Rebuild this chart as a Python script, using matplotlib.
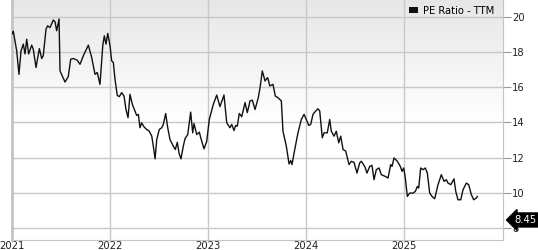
import numpy as np
import matplotlib
matplotlib.use("Agg")
import matplotlib.pyplot as plt
from matplotlib.patches import Rectangle

# ---- data (fractional years, PE ratio TTM) ----
years = [
    2021.000, 2021.013, 2021.048, 2021.071, 2021.092, 2021.115, 2021.133, 2021.150, 2021.170, 2021.201,
    2021.217, 2021.245, 2021.279, 2021.303, 2021.319, 2021.347, 2021.364, 2021.388, 2021.421, 2021.439,
    2021.456, 2021.480, 2021.490, 2021.541, 2021.574, 2021.599, 2021.626, 2021.666, 2021.694, 2021.728,
    2021.779, 2021.813, 2021.847, 2021.870, 2021.898, 2021.926, 2021.942, 2021.959, 2021.977, 2022.000,
    2022.017, 2022.034, 2022.051, 2022.074, 2022.095, 2022.119, 2022.143, 2022.163, 2022.184, 2022.204,
    2022.228, 2022.255, 2022.272, 2022.289, 2022.306, 2022.323, 2022.347, 2022.374, 2022.401, 2022.426,
    2022.442, 2022.460, 2022.477, 2022.503, 2022.528, 2022.544, 2022.568, 2022.589, 2022.612, 2022.646,
    2022.666, 2022.687, 2022.704, 2022.724, 2022.748, 2022.765, 2022.793, 2022.823, 2022.844, 2022.857,
    2022.885, 2022.911, 2022.936, 2022.959, 2022.987, 2023.013, 2023.054, 2023.089, 2023.122, 2023.163,
    2023.191, 2023.224, 2023.242, 2023.265, 2023.282, 2023.299, 2023.319, 2023.344, 2023.378, 2023.401,
    2023.429, 2023.452, 2023.480, 2023.513, 2023.531, 2023.554, 2023.582, 2023.605, 2023.612, 2023.630,
    2023.663, 2023.687, 2023.714, 2023.748, 2023.765, 2023.799, 2023.827, 2023.844, 2023.857, 2023.885,
    2023.918, 2023.952, 2023.980, 2024.003, 2024.028, 2024.048, 2024.071, 2024.099, 2024.122, 2024.140,
    2024.166, 2024.184, 2024.217, 2024.242, 2024.258, 2024.286, 2024.309, 2024.334, 2024.354, 2024.378,
    2024.405, 2024.439, 2024.462, 2024.490, 2024.520, 2024.548, 2024.564, 2024.599, 2024.622, 2024.650,
    2024.673, 2024.694, 2024.717, 2024.745, 2024.768, 2024.809, 2024.837, 2024.864, 2024.878, 2024.898,
    2024.932, 2024.962, 2024.980, 2024.997, 2025.013, 2025.034, 2025.058, 2025.092, 2025.115, 2025.136,
    2025.150, 2025.170, 2025.194, 2025.217, 2025.238, 2025.262, 2025.286, 2025.313, 2025.347, 2025.381,
    2025.408, 2025.432, 2025.449, 2025.477, 2025.510, 2025.528, 2025.551, 2025.579, 2025.602, 2025.636,
    2025.660, 2025.687, 2025.711, 2025.738, 2025.748,
]
pe_ratio = [
    19.03, 19.20, 18.07, 16.74, 18.07, 18.46, 17.90, 18.74, 17.90, 18.40,
    18.17, 17.13, 18.20, 17.64, 17.80, 19.31, 19.50, 19.40, 19.83, 19.73,
    19.22, 19.89, 16.93, 16.30, 16.61, 17.60, 17.64, 17.54, 17.31, 17.80,
    18.40, 17.70, 16.74, 16.84, 16.17, 18.37, 18.93, 18.46, 19.07, 18.37,
    17.51, 17.41, 16.46, 15.54, 15.47, 15.70, 15.50, 14.74, 14.27, 15.60,
    15.03, 14.65, 14.40, 14.46, 13.70, 13.98, 13.75, 13.60, 13.50, 13.22,
    12.65, 11.93, 13.03, 13.60, 13.70, 13.89, 14.51, 13.70, 13.03, 12.65,
    12.46, 12.87, 12.26, 11.93, 12.65, 13.07, 13.31, 14.59, 13.41, 13.94,
    13.31, 13.45, 12.93, 12.50, 12.93, 14.17, 15.03, 15.56, 14.90, 15.56,
    13.98, 13.70, 13.89, 13.54, 13.83, 13.79, 14.51, 14.33, 15.13, 14.56,
    15.23, 15.27, 14.74, 15.41, 15.98, 16.93, 16.36, 16.55, 16.50, 16.08,
    16.17, 15.50, 15.41, 15.23, 13.50, 12.65, 11.64, 11.83, 11.60, 12.46,
    13.41, 14.17, 14.46, 14.17, 13.83, 13.89, 14.46, 14.65, 14.78, 14.65,
    13.13, 13.41, 13.41, 14.17, 13.50, 13.22, 13.50, 12.84, 13.22, 12.46,
    12.37, 11.60, 11.79, 11.73, 11.12, 11.70, 11.79, 11.50, 11.12, 11.50,
    11.56, 10.74, 11.31, 11.41, 11.03, 10.93, 10.84, 11.60, 11.50, 11.98,
    11.79, 11.50, 11.22, 11.41, 10.84, 9.79, 9.98, 9.98, 10.07, 10.36,
    10.27, 11.41, 11.31, 11.41, 11.12, 9.98, 9.79, 9.66, 10.46, 11.03,
    10.65, 10.74, 10.55, 10.46, 10.79, 10.07, 9.60, 9.60, 10.17, 10.55,
    10.46, 9.89, 9.60, 9.70, 9.79,
]
year_ticks = [2021, 2022, 2023, 2024, 2025]
year_labels = ["2021", "2022", "2023", "2024", "2025"]
y_ticks = [8, 10, 12, 14, 16, 18, 20]
series_label = "PE Ratio - TTM"
current_value = 8.45

# ---- figure ----
W, H = 538, 250
fig = plt.figure(figsize=(W / 100, H / 100), dpi=100)
ax = fig.add_axes([12 / W, 10 / H, (503 - 12) / W, 240 / H])

x0, x1 = 2021.0, 2026.01
y0, y1 = 7.31, 20.97
ax.set_xlim(x0, x1)
ax.set_ylim(y0, y1)

# gradient background (gray at top fading to white near 14)
n = 256
frac = np.linspace(0, 1, n)  # 0 bottom -> 1 top
fade_start = (14.0 - y0) / (y1 - y0)
t = np.clip((frac - fade_start) / (1 - fade_start), 0, 1)
gray = 1.0 - t * (1.0 - 0.905)
img = np.dstack([gray, gray, gray]).reshape(n, 1, 3)
ax.imshow(img, extent=[0, 1, 0, 1], transform=ax.transAxes, origin="lower",
          aspect="auto", zorder=0, interpolation="bilinear")

grid_c = "#c8c8c8"
for yt in y_ticks:
    ax.axhline(yt, color=grid_c, lw=1.0, zorder=1)
for xt in year_ticks[1:]:
    ax.axvline(xt, color=grid_c, lw=1.0, zorder=1)

ax.plot(years, pe_ratio, color="#111111", lw=1.0, zorder=3, label=series_label)

# spines
ax.spines["top"].set_visible(False)
ax.spines["left"].set_color("#c4c4c4")
ax.spines["left"].set_linewidth(2.0)
ax.spines["right"].set_color("#c4c4c4")
ax.spines["right"].set_linewidth(0.8)
ax.spines["bottom"].set_color("#c4c4c4")
ax.spines["bottom"].set_linewidth(0.8)

ax.yaxis.tick_right()
ax.set_yticks(y_ticks)
ax.set_yticklabels([str(v) for v in y_ticks])
ax.set_xticks(year_ticks)
ax.set_xticklabels(year_labels)
ax.tick_params(axis="y", direction="out", length=5.5, width=0.8, color="#9a9a9a",
               pad=1, labelsize=7.2, labelcolor="#222222")
ax.tick_params(axis="x", length=0, pad=0.5, labelsize=7.2, labelcolor="#222222")

# legend
handle = Rectangle((0, 0), 1, 1, facecolor="#111111", edgecolor="none")
leg = ax.legend([handle], [series_label], loc="upper right", frameon=False,
                fontsize=7.2, handlelength=0.9, handleheight=0.55,
                handletextpad=0.5, borderaxespad=0.2, bbox_to_anchor=(0.994, 1.0))

# current value badge
ax.annotate(f"{current_value:.2f}", xy=(1.0, current_value),
            xycoords=("axes fraction", "data"),
            xytext=(8, 0), textcoords="offset points",
            ha="left", va="center", color="white", fontsize=7.2,
            bbox=dict(boxstyle="larrow,pad=0.2", fc="black", ec="black"),
            annotation_clip=False, zorder=10)

fig.savefig("out.png", dpi=100)
